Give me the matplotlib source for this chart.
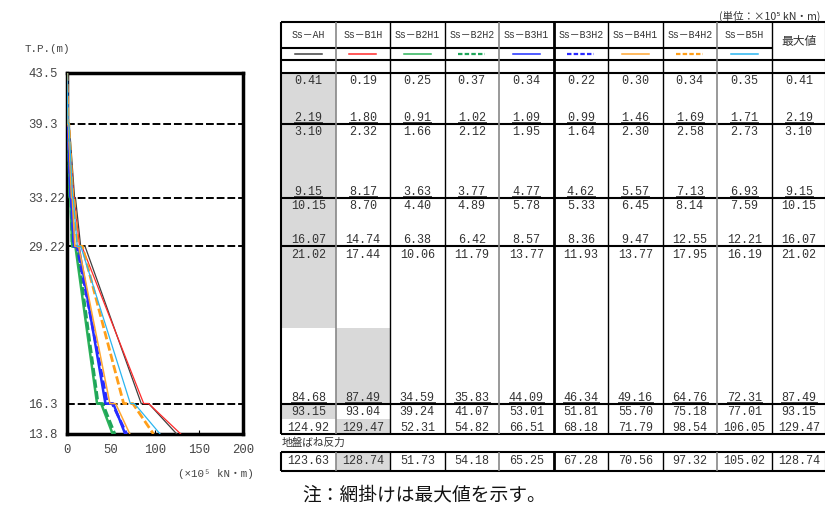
import matplotlib
matplotlib.use('Agg')
import matplotlib.pyplot as plt
from matplotlib.patches import Rectangle

plt.rcParams['font.family'] = ['Liberation Mono', 'Noto Sans CJK JP', 'DejaVu Sans']

# 標高 T.P.(m)
elev = [43.5, 39.3, 33.22, 29.22, 16.3, 13.8]
elev_labels = ['43.5', '39.3', '33.22', '29.22', '16.3', '13.8']

series = ['Ss－AH', 'Ss－B1H', 'Ss－B2H1', 'Ss－B2H2', 'Ss－B3H1',
          'Ss－B3H2', 'Ss－B4H1', 'Ss－B4H2', 'Ss－B5H']

# 各層の上端・下端の曲げモーメント (×10^5 kN・m)
m_ah   = [0.41, 2.19, 3.10, 9.15, 10.15, 16.07, 21.02, 84.68, 93.15, 124.92]
m_b1h  = [0.19, 1.80, 2.32, 8.17, 8.70, 14.74, 17.44, 87.49, 93.04, 129.47]
m_b2h1 = [0.25, 0.91, 1.66, 3.63, 4.40, 6.38, 10.06, 34.59, 39.24, 52.31]
m_b2h2 = [0.37, 1.02, 2.12, 3.77, 4.89, 6.42, 11.79, 35.83, 41.07, 54.82]
m_b3h1 = [0.34, 1.09, 1.95, 4.77, 5.78, 8.57, 13.77, 44.09, 53.01, 66.51]
m_b3h2 = [0.22, 0.99, 1.64, 4.62, 5.33, 8.36, 11.93, 46.34, 51.81, 68.18]
m_b4h1 = [0.30, 1.46, 2.30, 5.57, 6.45, 9.47, 13.77, 49.16, 55.70, 71.79]
m_b4h2 = [0.34, 1.69, 2.58, 7.13, 8.14, 12.55, 17.95, 64.76, 75.18, 98.54]
m_b5h  = [0.35, 1.71, 2.73, 6.93, 7.59, 12.21, 16.19, 72.31, 77.01, 106.05]
m_max  = [0.41, 2.19, 3.10, 9.15, 10.15, 16.07, 21.02, 87.49, 93.15, 129.47]

# 地盤ばね反力
spring = [123.63, 128.74, 51.73, 54.18, 65.25, 67.28, 70.56, 97.32, 105.02, 128.74]

# 網掛けが AH から B1H に切り替わる標高
shade_switch = 22.5

values = [m_ah, m_b1h, m_b2h1, m_b2h2, m_b3h1, m_b3h2, m_b4h1, m_b4h2, m_b5h]
colors = ['#404040', '#ff2a2a', '#2db35a', '#1fa55a', '#1f2fff',
          '#2a2aff', '#ffa733', '#ff9f1a', '#2ab5f0']
dashed = [False, False, False, True, False, True, False, True, False]
widths = [0.9, 0.9, 1.8, 2.0, 1.8, 2.0, 1.1, 2.0, 0.9]

W, H = 825, 511
fig = plt.figure(figsize=(W / 100, H / 100), dpi=100)


def fx(p):
    return p / W


def fy(p):
    return 1 - p / H


y_top, y_bot = 72.5, 434
k = (y_bot - y_top) / (elev[0] - elev[-1])  # px per m


def dm(p):
    return p / k


# ---- グラフ ----
ax = fig.add_axes([fx(66.5), fy(y_bot), fx(243 - 66.5), (y_bot - y_top) / H])
ys = []
for i in range(5):
    ys += [elev[i], elev[i + 1]]
for vals, c, d, lw in zip(values, colors, dashed, widths):
    ax.plot(vals, ys, color=c, lw=lw, ls=(0, (3, 1.2)) if d else '-', zorder=3)
for e in elev[1:-1]:
    ax.axhline(e, color='black', ls=(0, (4, 1.5)), lw=1.4, zorder=2)
ax.set_xlim(0, 200)
ax.set_ylim(elev[-1], elev[0])
ax.set_xticks([0, 50, 100, 150, 200])
ax.set_yticks(elev)
ax.set_yticklabels(elev_labels)
ax.tick_params(axis='y', length=0, pad=27.7, labelsize=8.8, labelcolor='#444')
for lab in ax.get_yticklabels():
    lab.set_ha('left')
ax.tick_params(axis='x', direction='in', length=3, pad=7, labelsize=8.8,
               labelcolor='#444')
for s in ax.spines.values():
    s.set_linewidth(2.5)

fig.text(fx(25), fy(49), 'T.P.(m)', fontsize=7.8, color='#444', va='center')
fig.text(fx(254), fy(474), '(×10⁵ kN・m)', fontsize=7.8, color='#444',
         ha='right', va='center')

# ---- 表 ----
tax = fig.add_axes([fx(281), fy(y_bot), fx(545), (y_bot - y_top) / H])
tax.set_xlim(0, 10)
tax.set_ylim(elev[-1], elev[0])
tax.axis('off')

top = elev[0]
hdr_top = top + dm(50.5)
hdr_mid = top + dm(24.5)
leg_bot = top + dm(12.5)
col_px = 54.5
gray = '#d9d9d9'


def hline(y, x0=0, x1=10, lw=1.5):
    tax.plot([x0, x1], [y, y], color='black', lw=lw, clip_on=False,
             solid_capstyle='butt', zorder=4)


vcolors = ['black', '#888', 'black', 'black', '#888', 'black',
           'black', 'black', '#888', 'black', 'black']
vwidths = [1.5, 1.2, 1.0, 1.0, 1.2, 2.0, 1.0, 1.0, 1.2, 1.0, 1.5]


def vlines(y0, y1):
    for x, c, lw in zip(range(11), vcolors, vwidths):
        tax.plot([x, x], [y0, y1], color=c, lw=lw, clip_on=False,
                 solid_capstyle='butt', zorder=4)


# 網掛け
for i in range(5):
    top_j = max(range(9), key=lambda j: values[j][2 * i])
    bot_j = max(range(9), key=lambda j: values[j][2 * i + 1])
    y0, y1 = elev[i], elev[i + 1]
    if i == 3:
        split = shade_switch
    elif i == 4:
        split = (y0 + y1) / 2
    else:
        split = y1
    tax.add_patch(Rectangle((top_j, split), 1, y0 - split, color=gray,
                            lw=0, zorder=0))
    if split != y1:
        tax.add_patch(Rectangle((bot_j, y1), 1, split - y1, color=gray,
                                lw=0, zorder=0))

# 罫線
hline(hdr_top)
hline(hdr_mid, 0, 9)
hline(leg_bot)
for e in elev:
    hline(e)
vlines(hdr_top, elev[-1])

# 見出し
for j, name in enumerate(series):
    tax.text(j + 0.5, top + dm(37.5), name, ha='center', va='center',
             fontsize=7.1, color='#333', clip_on=False)
    y = top + dm(19)
    tax.plot([j + 0.25, j + 0.75], [y, y], color=colors[j],
             lw=1.6 if dashed[j] else 1.1,
             ls=(0, (2, 1)) if dashed[j] else '-', clip_on=False)
tax.text(9.5, top + dm(31), '最大値', ha='center', va='center', fontsize=8.5,
         family=['Noto Sans CJK JP'], color='#333', clip_on=False)

# 数値
table_cols = values + [m_max]
for j, vals in enumerate(table_cols):
    for i in range(5):
        s_top = f'{vals[2 * i]:.2f}'
        s_bot = f'{vals[2 * i + 1]:.2f}'
        tax.annotate(s_top, (j + 0.5, elev[i]), xytext=(0, -8.3),
                     textcoords='offset points', ha='center', va='baseline',
                     fontsize=8.5, color='#333')
        tax.annotate(s_bot, (j + 0.5, elev[i + 1]), xytext=(0, 2.2),
                     textcoords='offset points', ha='center', va='baseline',
                     fontsize=8.5, color='#333')
        if i < 4:
            hw = len(s_bot) * 7.1 / 2 / col_px
            yu = elev[i + 1] + dm(1.6)
            tax.plot([j + 0.5 - hw, j + 0.5 + hw], [yu, yu], color='#444',
                     lw=0.7)

# 地盤ばね反力
tax.text(0.02, elev[-1] - dm(9), '地盤ばね反力', ha='left', va='center',
         fontsize=7.7, family=['Noto Sans CJK JP'], color='#333', clip_on=False)
b0 = elev[-1] - dm(18)
b1 = elev[-1] - dm(37)
sp_j = max(range(9), key=lambda j: spring[j])
tax.add_patch(Rectangle((sp_j, b1), 1, b0 - b1, color=gray, lw=0, zorder=0,
                        clip_on=False))
hline(b0)
hline(b1)
vlines(b0, b1)
for j, v in enumerate(spring):
    tax.text(j + 0.5, (b0 + b1) / 2, f'{v:.2f}', ha='center', va='center',
             fontsize=8.5, color='#333', clip_on=False)

fig.text(fx(719), fy(16), '(単位：×10⁵ kN・m)', fontsize=7.6, color='#333',
         family=['Noto Sans CJK JP', 'DejaVu Sans'], va='center')
fig.text(fx(302), fy(495), '注：網掛けは最大値を示す。', fontsize=13.5,
         family=['Noto Sans CJK JP'], color='#111', va='center')

fig.savefig('out.png', dpi=100)
